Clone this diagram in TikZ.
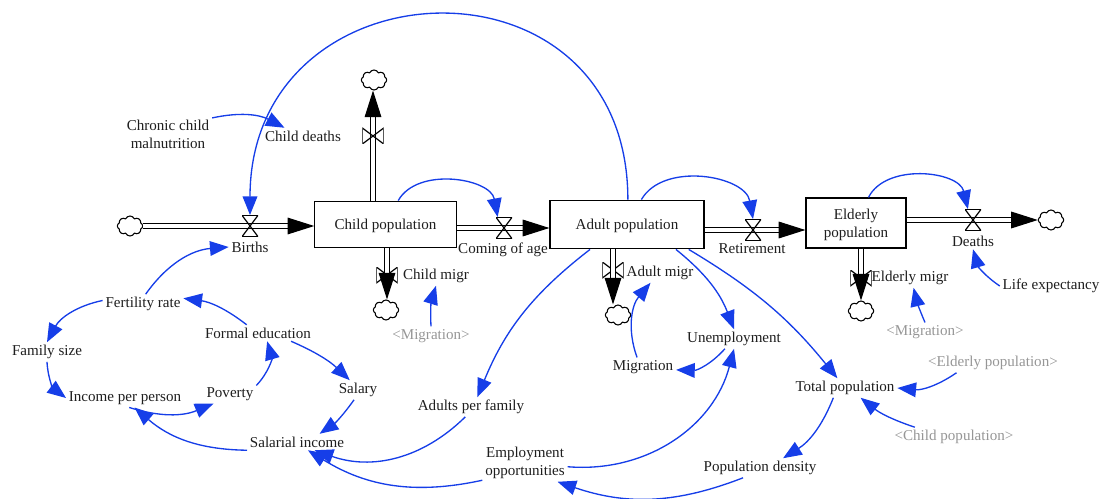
\documentclass[tikz,border=0pt]{standalone}
\usepackage{fontspec}
\setmainfont{Liberation Serif}
\usetikzlibrary{arrows.meta,shapes.symbols}
\definecolor{linkblue}{RGB}{22,62,232}
\definecolor{ghostgray}{RGB}{150,150,150}
\definecolor{labelblack}{RGB}{30,30,30}
\tikzset{
  lbl/.style={inner sep=2pt,align=center,text=labelblack,font=\fontsize{11.3}{13.5}\selectfont},
  ghost/.style={lbl,text=ghostgray},
  stock/.style={shape=rectangle,draw=black,line width=.9pt,fill=white,lbl},
  puff/.style={shape=cloud,cloud puffs=8,cloud puff arc=130,aspect=1.3,draw=black,line width=.8pt,inner sep=0pt,minimum width=19pt,minimum height=15pt,fill=white},
  valveup/.style={shape=rectangle,inner sep=0pt,minimum width=12pt,minimum height=16pt,
    path picture={\draw[line width=.9pt] (path picture bounding box.north west) -- (path picture bounding box.north east) -- (path picture bounding box.south west) -- (path picture bounding box.south east) -- cycle;}},
  valveside/.style={shape=rectangle,inner sep=0pt,minimum width=16pt,minimum height=12pt,
    path picture={\draw[line width=.9pt] (path picture bounding box.north west) -- (path picture bounding box.south west) -- (path picture bounding box.north east) -- (path picture bounding box.south east) -- cycle;}},
  flow/.style={draw=black,line width=.8pt,double=white,double distance=2.5pt,-{Triangle[length=20pt,width=12.5pt]}},
  infl/.style={draw=linkblue,line width=1pt,-{Triangle[length=14pt,width=11pt,fill=linkblue]}}
}
\begin{document}
\begin{tikzpicture}[x=.75pt,y=-.75pt]
\useasboundingbox (0,0) rectangle (1105,499);

\node[puff] (cloudBirths) at (130,226) {};
\node[puff] (cloudDeaths) at (374,80) {};
\node[puff] (cloudChild) at (386,310) {};
\node[puff] (cloudAdult) at (618,315) {};
\node[puff] (cloudElderly) at (861,311) {};
\node[puff] (cloudOld) at (1051,220) {};

\node[stock,minimum width=106pt,minimum height=35pt,text height=8pt,text depth=0pt] (child) at (385.5,224.5) {Child population};
\node[stock,minimum width=115.5pt,minimum height=36.5pt,text height=8pt,text depth=0pt] (adult) at (627,224.5) {Adult population};
\node[stock,minimum width=75pt,minimum height=37.5pt] (elderly) at (856,223) {\rule{0pt}{11pt}Elderly\\population};

\node[valveside] (childV) at (387,275) {};
\node[valveside] (adultV) at (613,270) {};
\node[valveside] (elderlyV) at (861,278) {};
\coordinate (deathsC) at (373,136);
\coordinate (comingC) at (504,228);
\coordinate (retireC) at (753,230);
\coordinate (oldC) at (973,220);

\path [flow] (cloudBirths.east) -- (cloudBirths.east -| child.west);
\path [flow] (deathsC |- child.north) -- (deathsC |- cloudDeaths.south);
\path [flow] (childV |- child.south) -- (childV |- cloudChild.north);
\path [flow] (comingC -| child.east) -- (comingC -| adult.west);
\path [flow] (adultV |- adult.south) -- (adultV |- cloudAdult.north);
\path [flow] (retireC -| adult.east) -- (retireC -| elderly.west);
\path [flow] (elderlyV |- elderly.south) -- (elderlyV |- cloudElderly.north);
\path [flow] (oldC -| elderly.east) -- (cloudOld.west);

\node[valveup] (birthsV) at (250,226) {};
\node[valveside] (deathsV) at (deathsC) {};
\node[valveup] (comingV) at (comingC) {};
\node[valveup] (retireV) at (retireC) {};
\node[valveup] (oldV) at (oldC) {};

\node[lbl] (chronic) at (168,134) {Chronic child\\malnutrition};
\node[lbl] (childDeaths) at (303,136) {Child deaths};
\node[lbl] (births) at (250,247) {Births};
\node[lbl] (coming) at (503,250) {Coming of age};
\node[lbl] (retire) at (752,249) {Retirement};
\node[lbl] (deaths) at (973,241) {Deaths};
\node[lbl] (life) at (1051,286) {Life expectancy};
\node[lbl] (childMigr) at (436,276) {Child migr};
\node[lbl] (adultMigr) at (660,273) {Adult migr};
\node[lbl] (elderlyMigr) at (910,278) {Elderly migr};
\node[ghost] (ghostChildMig) at (431,336) {<Migration>};
\node[ghost] (ghostElderlyMig) at (925,332) {<Migration>};
\node[lbl] (unemp) at (734,339) {Unemployment};
\node[lbl] (migration) at (643,367) {Migration};
\node[ghost] (ghostElderly) at (993,363) {<Elderly population>};
\node[lbl] (total) at (845,388) {Total population};
\node[ghost] (ghostChild) at (954,437) {<Child population>};
\node[lbl] (density) at (760,468) {Population density};
\node[lbl] (adultsFam) at (471,407) {Adults per family};
\node[lbl] (employ) at (525,463) {Employment\\opportunities};
\node[lbl] (salarial) at (297,442) {Salarial income};
\node[lbl] (salary) at (358,390) {Salary};
\node[lbl] (poverty) at (230,394) {Poverty};
\node[lbl] (income) at (125,398) {Income per person};
\node[lbl] (family) at (47,352) {Family size};
\node[lbl] (fertility) at (143,304) {Fertility rate};
\node[lbl] (formal) at (258,333) {Formal education};

\path (adult.88) edge[infl,out=90,in=90,looseness=1.73] (birthsV.north);
\path (chronic.20) edge[infl,bend left=20] (childDeaths.156);
\path (fertility.75) edge[infl,bend left=25] (births.west);
\path (fertility.175) edge[infl,bend right=25] (family.north);
\path (family.south) edge[infl,bend right=25] (income.west);
\path (income.-66) edge[infl,bend right=20] (poverty.210);
\path (poverty.18) edge[infl,bend right=30] (formal.-42);
\path (formal.144) edge[infl,bend right=15] (fertility.8);
\path (formal.-14) edge[infl,bend left=10] (salary.130);
\path (salary.-112) edge[infl,bend left=10] (salarial.20);
\path (salarial.south west) edge[infl,bend left=20] (income.-45);
\path (adultsFam.-120) edge[infl,bend left=32] (salarial.-25);
\path (employ.-158) edge[infl,bend left=22] (salarial.-37);
\path (adult.-146) edge[infl,bend right=15] (adultsFam.57);
\path (adult.-27) edge[infl,bend left=15] (unemp.north);
\path (adult.-22) edge[infl,bend left=10] (total.128);
\path (unemp.-133) edge[infl,bend left=25] (migration.-5);
\path (migration.122) edge[infl,bend left=30] (adultMigr.-134);
\path (employ.-5) edge[infl,bend right=40] (unemp.south);
\path (density.-150) edge[infl,bend left=20] (employ.-30);
\path (total.-140) edge[infl,bend left=18] (density.23);
\path (ghostElderly.-165) edge[infl,bend left=20] (total.east);
\path (ghostChild.166) edge[infl,bend left=10] (total.-32);
\path (life.west) edge[infl,bend left=20] (deaths.south);
\path (ghostChildMig.north) edge[infl,bend left=10] (childMigr.south);
\path (ghostElderlyMig.north) edge[infl,bend left=5] (elderlyMigr.-70);
\path (child.62) edge[infl,bend left=70] (comingV.120);
\path (adult.60) edge[infl,bend left=70] (retireV.north);
\path (elderly.64) edge[infl,bend left=70] (oldV.115);
\end{tikzpicture}
\end{document}
